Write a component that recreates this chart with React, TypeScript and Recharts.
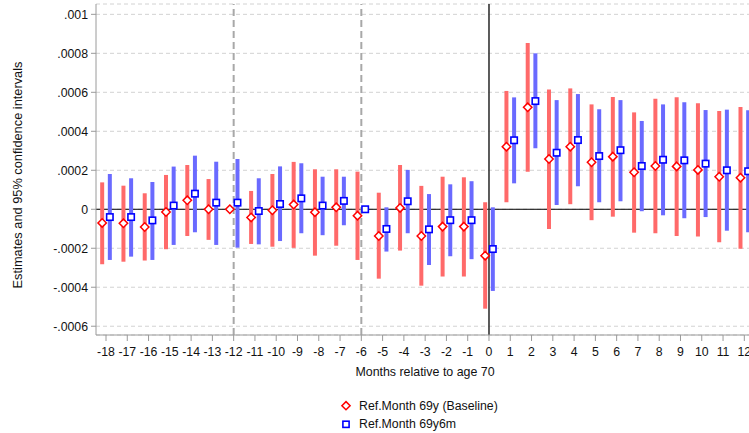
import React from 'react';
import {
  ComposedChart,
  Scatter,
  ErrorBar,
  XAxis,
  YAxis,
  CartesianGrid,
  ReferenceLine,
} from 'recharts';

// ---- data ----
const months = [-18, -17, -16, -15, -14, -13, -12, -11, -10, -9, -8, -7, -6, -5, -4, -3, -2, -1, 0, 1, 2, 3, 4, 5, 6, 7, 8, 9, 10, 11, 12];

const baselineEst = [-0.00007, -0.000072, -0.000091, -0.000014, 0.000046, 0.0, 0.0, -0.000042, -0.000005, 0.000024, -0.000015, 0.00001, -0.000033, -0.000137, 0.000007, -0.000137, -0.000089, -0.000089, -0.000238, 0.000321, 0.000523, 0.000258, 0.000321, 0.000241, 0.00027, 0.00019, 0.000222, 0.00022, 0.000202, 0.000167, 0.000162];
const baselineLo = [-0.000282, -0.000269, -0.000263, -0.000205, -0.000137, -0.000157, 0.0, -0.000178, -0.000192, -0.000198, -0.000238, -0.000187, -0.00026, -0.000356, -0.000212, -0.000392, -0.000345, -0.000345, -0.00051, 0.000036, 0.000193, -0.000101, 0.000026, -0.000056, -0.000038, -0.00012, -0.000123, -0.000137, -0.00014, -0.000169, -0.000202];
const baselineHi = [0.000138, 0.000121, 0.000082, 0.000176, 0.000227, 0.000155, 0.0, 0.000094, 0.000181, 0.000243, 0.000205, 0.000205, 0.000193, 0.000085, 0.000227, 0.00012, 0.000167, 0.000164, 0.000036, 0.000607, 0.000853, 0.000615, 0.00062, 0.000538, 0.000576, 0.000497, 0.000567, 0.000574, 0.000544, 0.000504, 0.000525];

const altEst = [-0.00004, -0.00004, -0.000057, 0.000019, 0.00008, 0.000034, 0.000034, -0.000009, 0.000027, 0.000056, 0.000019, 0.000043, 0.0, -0.000101, 0.000041, -0.000103, -0.000056, -0.000056, -0.000204, 0.000354, 0.000555, 0.00029, 0.000355, 0.000273, 0.000303, 0.000222, 0.000254, 0.000251, 0.000234, 0.0002, 0.000195];
const altLo = [-0.00026, -0.000243, -0.00026, -0.000183, -0.000118, -0.000183, -0.000197, -0.00018, -0.000163, -0.000123, -0.000133, -0.000082, 0.0, -0.000217, -0.000123, -0.000286, -0.000241, -0.000256, -0.000419, 0.000133, 0.000313, 0.000022, 0.000118, 0.000036, 0.000041, -0.00001, -0.000031, -0.000046, -0.00004, -0.00011, -0.000118];
const altHi = [0.000181, 0.000159, 0.00014, 0.000219, 0.000275, 0.000244, 0.000258, 0.000159, 0.00022, 0.000236, 0.000167, 0.000167, 0.0, 0.00001, 0.000202, 0.000078, 0.000128, 0.000144, 0.00001, 0.000574, 0.0008, 0.00056, 0.000591, 0.000513, 0.00056, 0.000453, 0.000538, 0.000549, 0.000509, 0.000511, 0.000508];

const yTicks = [-0.0006, -0.0004, -0.0002, 0, 0.0002, 0.0004, 0.0006, 0.0008, 0.001];
const yTickLabels = ['-.0006', '-.0004', '-.0002', '0', '.0002', '.0004', '.0006', '.0008', '.001'];
const xTicks = months;

const seriesNames = ['Ref.Month 69y (Baseline)', 'Ref.Month 69y6m'];
const xTitle = 'Months relative to age 70';
const yTitle = 'Estimates and 95% confidence intervals';

// horizontal dodge of the two series (in months)
const DODGE = 0.18;

const buildSeries = (est: number[], lo: number[], hi: number[], shift: number) =>
  months.map((m, i) => ({
    x: m + shift,
    y: est[i],
    err: [est[i] - lo[i], hi[i] - est[i]],
  }));

const baselineData = buildSeries(baselineEst, baselineLo, baselineHi, -DODGE);
const altData = buildSeries(altEst, altLo, altHi, DODGE);

const FONT = '"Liberation Sans", Arial, Helvetica, sans-serif';
const RED = '#ff0000';
const RED_BAR = '#ff6a6a';
const BLUE = '#0000ff';
const BLUE_BAR = '#6a6aff';

const Diamond = (props: any) => {
  const { cx, cy } = props;
  if (cx == null || cy == null) return null;
  const r = 4.2;
  return (
    <polygon
      points={`${cx},${cy - r} ${cx + r},${cy} ${cx},${cy + r} ${cx - r},${cy}`}
      fill="#fff"
      stroke={RED}
      strokeWidth={1.5}
    />
  );
};

const Square = (props: any) => {
  const { cx, cy } = props;
  if (cx == null || cy == null) return null;
  const h = 3.2;
  return (
    <rect x={cx - h} y={cy - h} width={2 * h} height={2 * h} fill="#fff" stroke={BLUE} strokeWidth={1.6} />
  );
};

const fmtY = (v: number) => {
  const i = yTicks.findIndex((t) => Math.abs(t - v) < 1e-9);
  return i >= 0 ? yTickLabels[i] : String(v);
};

export default function App() {
  return (
    <div style={{ position: 'absolute', left: 0, top: 0, width: 749, height: 433, overflow: 'hidden', background: '#fff' }}>
      <ComposedChart
        width={749}
        height={433}
        margin={{ top: 4, right: 0, bottom: 0, left: 0 }}
        style={{ fontFamily: FONT }}
      >
        <CartesianGrid horizontal vertical={false} stroke="#d2d2d2" strokeDasharray="4 3" strokeWidth={1} />
        <XAxis
          type="number"
          dataKey="x"
          domain={[-18.47, 12.22]}
          allowDataOverflow
          ticks={xTicks}
          interval={0}
          height={98}
          tickSize={6}
          tickMargin={6}
          stroke="#9a9a9a"
          tick={{ fill: '#111', fontSize: 12.3, fontFamily: FONT }}
          label={(p: any) => {
            const vb = p.viewBox || { x: 96, width: 653 };
            return (
              <text x={vb.x + vb.width / 2 + 2.5} y={375.6} textAnchor="middle" fill="#111" fontSize={12.4} fontFamily={FONT}>
                {xTitle}
              </text>
            );
          }}
        />
        <YAxis
          type="number"
          dataKey="y"
          domain={[-0.000645, 0.001053]}
          allowDataOverflow
          ticks={yTicks}
          interval={0}
          width={96}
          tickSize={5}
          tickMargin={3}
          stroke="#9a9a9a"
          tickFormatter={fmtY}
          tick={{ fill: '#111', fontSize: 12.3, fontFamily: FONT }}
          label={() => (
            <text
              x={17}
              y={175}
              transform="rotate(-90 17 175)"
              textAnchor="middle"
              dominantBaseline="central"
              fill="#111"
              fontSize={12.8}
              fontFamily={FONT}
            >
              {yTitle}
            </text>
          )}
        />
        <ReferenceLine y={0} stroke="#000" strokeWidth={1} />
        <ReferenceLine x={-12} stroke="#a8a8a8" strokeWidth={2} strokeDasharray="7 4" />
        <ReferenceLine x={-6} stroke="#a8a8a8" strokeWidth={2} strokeDasharray="7 4" />
        <ReferenceLine x={0} stroke="#333" strokeWidth={1.6} />
        <Scatter name={seriesNames[0]} data={baselineData} dataKey="y" shape={Diamond} isAnimationActive={false}>
          <ErrorBar dataKey="err" direction="y" width={0} stroke={RED_BAR} strokeWidth={4} isAnimationActive={false} />
        </Scatter>
        <Scatter name={seriesNames[1]} data={altData} dataKey="y" shape={Square} isAnimationActive={false}>
          <ErrorBar dataKey="err" direction="y" width={0} stroke={BLUE_BAR} strokeWidth={4} isAnimationActive={false} />
        </Scatter>
      </ComposedChart>
      <svg
        width={749}
        height={433}
        style={{ position: 'absolute', left: 0, top: 0, pointerEvents: 'none', fontFamily: FONT }}
      >
        <polygon points="346,401.6 350.1,405.7 346,409.8 341.9,405.7" fill="#fff" stroke={RED} strokeWidth={1.5} />
        <text x={359} y={410} fontSize={12.3} fill="#111" fontFamily={FONT}>
          {seriesNames[0]}
        </text>
        <rect x={342.9} y={421.2} width={6.2} height={6.2} fill="#fff" stroke={BLUE} strokeWidth={1.6} />
        <text x={359} y={428.3} fontSize={12.3} fill="#111" fontFamily={FONT}>
          {seriesNames[1]}
        </text>
      </svg>
    </div>
  );
}
